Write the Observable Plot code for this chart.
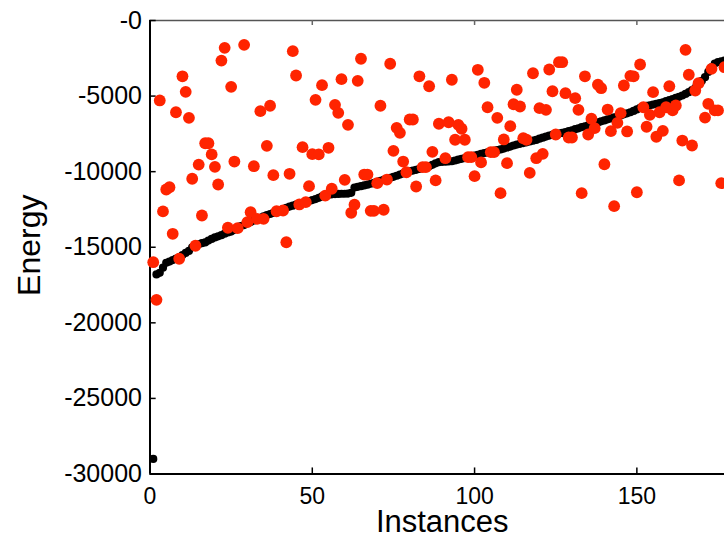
<!DOCTYPE html>
<html><head><meta charset="utf-8">
<script src="https://cdn.jsdelivr.net/npm/d3@7"></script>
<script src="https://cdn.jsdelivr.net/npm/@observablehq/plot@0.6"></script>
<style>
html,body{margin:0;padding:0;background:#fff;}
#chart{width:724px;height:535px;overflow:hidden;}
</style></head><body><div id="chart"></div>
<script>
// Black series: sorted energies, instance = index + 1
const blackEnergy = [
-29000,-16800,-16690,-16350,-16030,-15950,-15850,-15750,-15660,-15520,
-15370,-15240,-15000,-14860,-14800,-14730,-14680,-14560,-14450,-14350,
-14280,-14200,-14100,-14020,-13960,-13850,-13720,-13600,-13530,-13420,
-13330,-13230,-13150,-13060,-12960,-12870,-12800,-12720,-12640,-12560,
-12480,-12390,-12310,-12250,-12180,-12120,-12060,-12000,-11940,-11880,
-11810,-11730,-11640,-11570,-11530,-11500,-11480,-11470,-11460,-11460,
-11450,-11400,-11050,-11000,-10960,-10910,-10860,-10800,-10740,-10680,
-10610,-10540,-10470,-10410,-10340,-10270,-10190,-10110,-10030,-9980,
-9930,-9880,-9820,-9760,-9710,-9640,-9550,-9450,-9370,-9350,
-9340,-9320,-9310,-9260,-9200,-9150,-9100,-9050,-8990,-8930,
-8880,-8820,-8770,-8730,-8680,-8630,-8580,-8530,-8470,-8400,
-8340,-8270,-8210,-8160,-8110,-8060,-8000,-7950,-7900,-7820,
-7750,-7680,-7610,-7570,-7530,-7480,-7440,-7390,-7320,-7260,
-7190,-7130,-7060,-7000,-6930,-6870,-6800,-6740,-6670,-6610,
-6540,-6480,-6410,-6350,-6280,-6210,-6140,-6070,-5980,-5880,
-5780,-5700,-5650,-5610,-5560,-5510,-5460,-5410,-5340,-5270,
-5200,-5120,-5050,-4960,-4860,-4740,-4610,-4460,-4250,-4000,
-3750,-3400,-3100,-2850,-2750,-2700,-2650,-2620
];
// Red series
const redInstance = [
1,2,3,4,5,6,7,8,9,10,11,12,13,14,15,16,17,18,19,20,21,22,23,24,25,26,27,29,30,
31,32,33,34,35,36,37,38,39,41,42,43,44,45,46,47,48,49,50,51,52,53,54,55,56,57,58,59,60,
61,62,63,64,65,66,67,68,69,70,71,72,73,74,75,76,77,78,79,80,81,82,83,84,85,86,87,88,89,
91,92,93,94,95,96,97,98,99,100,101,102,103,104,105,106,107,108,109,110,111,112,113,114,115,116,117,118,119,
120,121,122,123,124,125,126,127,128,129,130,131,132,133,134,135,136,137,138,139,140,141,142,143,144,145,146,147,148,149,
150,151,152,153,154,155,156,157,158,159,160,161,162,163,164,165,166,167,168,169,171,172,173,174,175,176,177
];
const redEnergy = [
-15990,-18480,-5290,-12630,-11180,-11030,-14110,-6070,-15760,-3690,-4720,-6440,-10470,-14900,-9530,-12900,-8120,-8120,-8860,-9680,-10850,-2650,-1810,-13710,-4390,-9330,-13740,-1610,-13340,
-12680,-9640,-13120,-6000,-13120,-8290,-5640,-10230,-12620,-12570,-14670,-10140,-2030,-3640,-12170,-8380,-12020,-10960,-8840,-5250,-8860,-4280,-11580,-8420,-11130,-5580,-6110,-3880,-10540,
-6900,-12720,-12190,-3990,-2530,-10190,-10190,-12590,-12590,-10760,-5640,-12520,-10520,-2860,-8620,-7100,-7430,-9330,-10040,-6550,-6550,-10980,-3690,-9700,-9700,-4350,-8690,-10580,-6830,
-9110,-6730,-3920,-7890,-6900,-7160,-7890,-9040,-9040,-10300,-3260,-9390,-4120,-5740,-8710,-8710,-6440,-11420,-7870,-9440,-6990,-5540,-4580,-5690,-7790,-7890,-10080,-3490,-9110,
-5800,-8820,-5910,-3240,-4680,-7540,-2760,-2760,-4810,-7740,-7740,-5140,-5910,-11420,-3690,-7540,-6500,-7120,-4250,-4480,-9510,-5890,-7320,-12280,-6770,-6130,-4300,-7340,-3660,-3700,
-11360,-2910,-5740,-7030,-6240,-4740,-7690,-6070,-7300,-5740,-4350,-5950,-5620,-10580,-7940,-1940,-3590,-8270,-4630,-4150,-6420,-5510,-3200,-5950,-5950,-10760,-3090
];
const xTicks = [0, 50, 100, 150];
const yTicks = [-30000, -25000, -20000, -15000, -10000, -5000, 0];
const xLabel = "Instances";
const yLabel = "Energy";

const black = blackEnergy.map((e, i) => ({instance: i + 1, energy: e}));
const red = redInstance.map((x, i) => ({instance: x, energy: redEnergy[i]}));
const font = '"Liberation Sans", Arial, Helvetica, sans-serif';

const chart = Plot.plot({
  width: 724, height: 535,
  marginLeft: 149.5, marginRight: 0, marginTop: 20, marginBottom: 61.5,
  style: {fontFamily: font, background: "#fff", color: "#000"},
  x: {domain: [0, 177]},
  y: {domain: [-30000, 0]},
  marks: [
    Plot.ruleY([0], {stroke: "#555", strokeWidth: 1.5}),
    Plot.ruleX(xTicks, {x: d => d, y1: () => 0, y2: () => -330, stroke: "#666", strokeWidth: 1.5}),
    Plot.ruleX([0], {stroke: "#000", strokeWidth: 2}),
    Plot.ruleY([-30000], {stroke: "#000", strokeWidth: 2}),
    Plot.ruleY(yTicks, {y: d => d, x1: () => 0, x2: () => 1.9, stroke: "#000", strokeWidth: 1.5}),
    Plot.ruleX(xTicks, {x: d => d, y1: () => -30000, y2: () => -29600, stroke: "#000", strokeWidth: 1.5}),
    Plot.axisY({ticks: yTicks, tickSize: 0, tickPadding: 8, fontSize: 25, label: null,
      tickFormat: d => d === 0 ? "-0" : String(d)}),
    Plot.axisX({ticks: xTicks, tickSize: 0, tickPadding: 14, fontSize: 23, label: null,
      tickFormat: d => String(d)}),
    Plot.dot(black, {x: "instance", y: "energy", r: 4.1, fill: "#000", stroke: null}),
    Plot.dot(red, {x: "instance", y: "energy", r: 5.9, fill: "#ff2400", stroke: null}),
    Plot.text([yLabel], {text: d => d, frameAnchor: "left", textAnchor: "middle", lineAnchor: "middle",
      dx: -120, dy: -2, rotate: -90, fontSize: 32, fill: "#000"}),
    Plot.text([xLabel], {text: d => d, frameAnchor: "bottom", textAnchor: "middle", lineAnchor: "middle",
      dx: 5, dy: 48, fontSize: 31, fill: "#000"})
  ]
});
document.getElementById("chart").appendChild(chart);
</script></body></html>
